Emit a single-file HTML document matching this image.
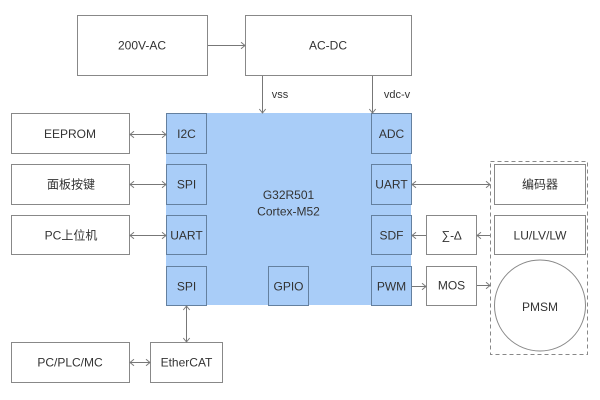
<!DOCTYPE html>
<html><head><meta charset="utf-8"><style>
html,body{margin:0;padding:0;background:#fff;}
svg{display:block;}
text{font-family:"Liberation Sans","Noto Sans CJK SC",sans-serif;font-size:12px;fill:#333;text-anchor:middle;dominant-baseline:central;}
</style></head><body>
<svg width="600" height="400" viewBox="0 0 600 400" xmlns="http://www.w3.org/2000/svg">
<defs>
<marker id="a" viewBox="0 0 10 10" refX="9" refY="5" markerWidth="8" markerHeight="8" orient="auto-start-reverse" markerUnits="userSpaceOnUse">
<path d="M4,1 L9,5 L4,9" fill="none" stroke="#777" stroke-width="1.2"/>
</marker>
</defs>
<g fill="#fff" stroke="#888" stroke-width="1">
<rect x="77.5" y="15.5" width="130" height="60"/>
<rect x="245.5" y="15.5" width="166" height="60"/>
<rect x="11.5" y="113.5" width="118" height="40"/>
<rect x="11.5" y="164.5" width="118" height="40"/>
<rect x="11.5" y="215.5" width="118" height="39"/>
<rect x="11.5" y="342.5" width="118" height="40"/>
<rect x="150.5" y="342.5" width="72" height="40"/>
<rect x="426.5" y="215.5" width="50" height="39"/>
<rect x="426.5" y="266.5" width="50" height="39"/>
<rect x="494.5" y="164.5" width="91" height="40"/>
<rect x="494.5" y="215.5" width="91" height="39"/>
<circle cx="540" cy="305.5" r="45.5"/>
</g>
<rect x="490.5" y="161.5" width="97" height="193" fill="none" stroke="#888" stroke-dasharray="4,3"/>
<rect x="166" y="113" width="245" height="192" fill="#a9cdf8"/>
<g fill="#a9cdf8" stroke="#64809f" stroke-width="1">
<rect x="166.5" y="113.5" width="40" height="40"/>
<rect x="166.5" y="164.5" width="40" height="40"/>
<rect x="166.5" y="215.5" width="40" height="39"/>
<rect x="166.5" y="266.5" width="40" height="39"/>
<rect x="371.5" y="113.5" width="40" height="40"/>
<rect x="371.5" y="164.5" width="40" height="40"/>
<rect x="371.5" y="215.5" width="40" height="39"/>
<rect x="371.5" y="266.5" width="40" height="39"/>
<rect x="268.5" y="266.5" width="40" height="39"/>
</g>
<g stroke="#777" stroke-width="1" fill="none">
<line x1="208" y1="45.5" x2="245" y2="45.5" marker-end="url(#a)"/>
<line x1="262.5" y1="76" x2="262.5" y2="113" marker-end="url(#a)"/>
<line x1="372.5" y1="76" x2="372.5" y2="113" marker-end="url(#a)"/>
<line x1="130" y1="134.5" x2="166" y2="134.5" marker-start="url(#a)" marker-end="url(#a)"/>
<line x1="130" y1="184.5" x2="166" y2="184.5" marker-start="url(#a)" marker-end="url(#a)"/>
<line x1="130" y1="235.5" x2="166" y2="235.5" marker-start="url(#a)" marker-end="url(#a)"/>
<line x1="186.5" y1="306" x2="186.5" y2="342" marker-start="url(#a)" marker-end="url(#a)"/>
<line x1="130" y1="362.5" x2="150" y2="362.5" marker-start="url(#a)" marker-end="url(#a)"/>
<line x1="412" y1="184.5" x2="490" y2="184.5" marker-start="url(#a)" marker-end="url(#a)"/>
<line x1="426" y1="235.5" x2="412" y2="235.5" marker-end="url(#a)"/>
<line x1="490" y1="235.5" x2="477" y2="235.5" marker-end="url(#a)"/>
<line x1="412" y1="286.5" x2="426" y2="286.5" marker-end="url(#a)"/>
<line x1="477" y1="285.5" x2="490" y2="285.5" marker-end="url(#a)"/>
</g>
<text x="142" y="45.5">200V-AC</text>
<text x="328" y="45.5">AC-DC</text>
<text x="280" y="95" style="font-size:11px">vss</text>
<text x="397" y="95" style="font-size:11px">vdc-v</text>
<text x="70" y="134">EEPROM</text>
<text x="71" y="184.5">面板按键</text>
<text x="71" y="235.5">PC上位机</text>
<text x="70" y="362.5">PC/PLC/MC</text>
<text x="186.5" y="362.5">EtherCAT</text>
<text x="186.5" y="134">I2C</text>
<text x="186.5" y="184.5">SPI</text>
<text x="186.5" y="235.5">UART</text>
<text x="186.5" y="286.5">SPI</text>
<text x="288.5" y="286.5">GPIO</text>
<text x="391.5" y="134">ADC</text>
<text x="391.5" y="184.5">UART</text>
<text x="391.5" y="235.5">SDF</text>
<text x="391.5" y="286.5">PWM</text>
<text x="288.5" y="195">G32R501</text>
<text x="288.5" y="211.5">Cortex-M52</text>
<text x="451.5" y="235.5">∑-∆</text>
<text x="451.5" y="285.5">MOS</text>
<text x="540" y="184.5">编码器</text>
<text x="540" y="235.5">LU/LV/LW</text>
<text x="540" y="307">PMSM</text>
</svg>
</body></html>
